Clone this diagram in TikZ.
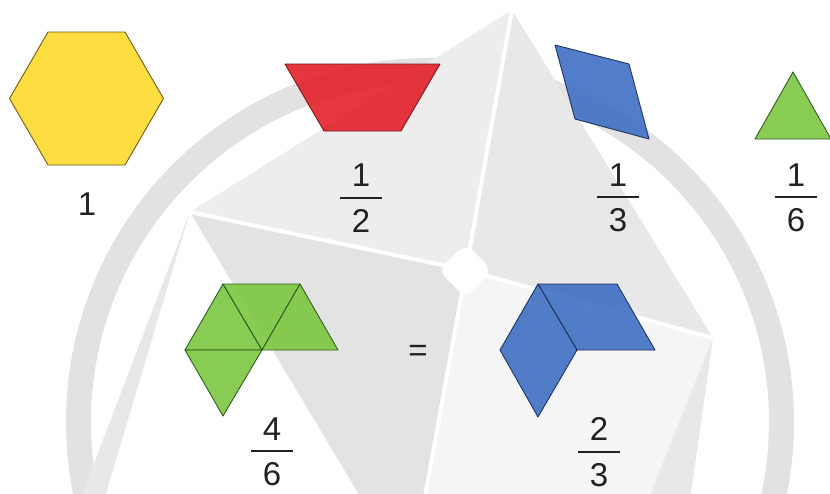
\documentclass[tikz,border=0pt]{standalone}
\usepackage{fontspec}
\setmainfont{Liberation Sans}

\definecolor{hexyellow}{HTML}{FDD92A}
\definecolor{hexedge}{HTML}{6E5B1F}
\definecolor{trapred}{HTML}{E3202B}
\definecolor{trapedge}{HTML}{7A1A1A}
\definecolor{rhomblue}{HTML}{3F6FC4}
\definecolor{rhombedge}{HTML}{1F3560}
\definecolor{trigreen}{HTML}{7CC740}
\definecolor{triedge}{HTML}{2F5E23}
\definecolor{inktext}{HTML}{222222}
\definecolor{wmring}{HTML}{E2E2E2}
\definecolor{wmlight}{HTML}{EDEDED}
\definecolor{wmmid}{HTML}{E8E8E8}
\definecolor{wmpale}{HTML}{F5F5F5}
\definecolor{wmdark}{HTML}{E3E3E3}

% stacked fraction: numerator, bar, denominator
\newcommand{\pbfrac}[2]{\vbox{\offinterlineskip
    \hbox to 42pt{\hss#1\hss}\kern10pt
    \hrule height 2pt\kern10.5pt
    \hbox to 42pt{\hss#2\hss}}}

\begin{document}
\begin{tikzpicture}[
      x=1pt, y=-1pt,
      piece/.style={line width=0.9pt, line join=round, fill opacity=0.9},
      lbl/.style={inner sep=0pt, text=inktext, font=\fontsize{33}{40}\selectfont},
      frac/.style={lbl},
    ]
    \useasboundingbox (0,0) rectangle (830,493);
    \clip (0,0) rectangle (830,493);

    % -------------------------------------------------------
    %  Watermark: ring and four-pointed star
    % -------------------------------------------------------
    \fill[wmring, even odd rule] (430,422) circle[radius=364pt]
                                 (430,422) circle[radius=339pt];

    \coordinate (sO) at (466,270);
    \coordinate (sT) at (512,10);
    \coordinate (sL) at (190,212);
    \coordinate (sR) at (713,338);
    \coordinate (sB) at (410,580);

    \fill[wmlight] (sO) -- (sL) -- (sT) -- cycle;
    \fill[wmmid]   (sO) -- (sT) -- (sR) -- cycle;
    \fill[wmpale]  (sO) -- (sR) -- (655,500) -- (sB) -- cycle;
    \fill[wmdark]  (sO) -- (sB) -- (sL) -- cycle;
    % thin blades below the side points
    \fill[wmmid] (sL) -- (80,500) -- (104,500) -- cycle;
    \fill[wmmid] (sR) -- (648,500) -- (690,500) -- cycle;

    \foreach \tip in {sT, sL, sR, sB} {
      \draw[white, line width=4pt] (sO) -- (\tip);
    }
    \fill[white, rounded corners=10pt]
      (466,244) -- (492,270) -- (466,298) -- (438,270) -- cycle;

    % -------------------------------------------------------
    %  Top row: the single blocks
    % -------------------------------------------------------
    \draw[piece, draw=hexedge, fill=hexyellow]
      (9.5,98.5) -- (48,32) -- (125,32) -- (163.5,98.5) -- (125,165) -- (48,165) -- cycle;
    \node[lbl] (one) at (87,204) {1};

    \draw[piece, draw=trapedge, fill=trapred]
      (285,64) -- (440,64) -- (401,131) -- (324,131) -- cycle;
    \node[frac] (half) at (361,198) {\pbfrac{1}{2}};

    \draw[piece, draw=rhombedge, fill=rhomblue]
      (555,45) -- (629,64) -- (649,139) -- (575,119) -- cycle;
    \node[frac] (third) at (618,198) {\pbfrac{1}{3}};

    \draw[piece, draw=triedge, fill=trigreen]
      (793,72) -- (831,139) -- (755,139) -- cycle;
    \node[frac] (sixth) at (796,198) {\pbfrac{1}{6}};

    % -------------------------------------------------------
    %  Bottom row: four triangles = two rhombi
    % -------------------------------------------------------
    \coordinate (gA) at (223,284);
    \coordinate (gB) at (300,284);
    \coordinate (gC) at (185,350);
    \coordinate (gD) at (262,350);
    \coordinate (gE) at (338,350);
    \coordinate (gF) at (223,416);
    \draw[piece, draw=triedge, fill=trigreen] (gC) -- (gA) -- (gD) -- cycle;
    \draw[piece, draw=triedge, fill=trigreen] (gA) -- (gB) -- (gD) -- cycle;
    \draw[piece, draw=triedge, fill=trigreen] (gB) -- (gE) -- (gD) -- cycle;
    \draw[piece, draw=triedge, fill=trigreen] (gC) -- (gD) -- (gF) -- cycle;
    \node[frac] (foursix) at (272,452) {\pbfrac{4}{6}};

    \node[lbl] (equals) at (418,353) {=};

    \coordinate (bP) at (538,284);
    \coordinate (bQ) at (617,284);
    \coordinate (bR) at (655,350);
    \coordinate (bM) at (577,350);
    \coordinate (bL) at (500,350);
    \coordinate (bB) at (538,417);
    \draw[piece, draw=rhombedge, fill=rhomblue] (bP) -- (bQ) -- (bR) -- (bM) -- cycle;
    \draw[piece, draw=rhombedge, fill=rhomblue] (bP) -- (bM) -- (bB) -- (bL) -- cycle;
    \node[frac] (twothird) at (599,452) {\pbfrac{2}{3}};

  \end{tikzpicture}
\end{document}
